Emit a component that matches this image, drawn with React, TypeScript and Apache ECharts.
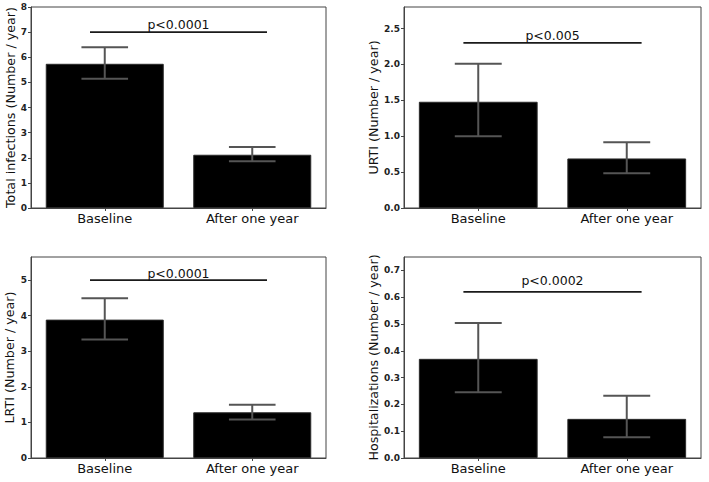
import React, { useEffect, useRef } from "react";
import * as echarts from "echarts";

const categories = ["Baseline", "After one year"];

const totalMeans = [5.74, 2.12];
const totalLow = [5.14, 1.86];
const totalHigh = [6.4, 2.43];

const urtiMeans = [1.48, 0.69];
const urtiLow = [1.0, 0.485];
const urtiHigh = [2.01, 0.915];

const lrtiMeans = [3.89, 1.285];
const lrtiLow = [3.33, 1.08];
const lrtiHigh = [4.49, 1.5];

const hospMeans = [0.37, 0.146];
const hospLow = [0.245, 0.077];
const hospHigh = [0.504, 0.232];

const axisNames = [
  "Total infections (Number / year)",
  "URTI (Number / year)",
  "LRTI (Number / year)",
  "Hospitalizations (Number / year)",
];
const yMax = [8, 2.8, 5.65, 0.75];
const yInterval = [1, 0.5, 1, 0.1];
const yDecimals = [0, 1, 0, 1];
const pLabels = ["p<0.0001", "p<0.005", "p<0.0001", "p<0.0002"];
const sigLineY = [7, 2.3, 5, 0.62];
const sigTextY = [7.32, 2.4, 5.18, 0.661];

const FONT = "DejaVu Sans";

const grids = [
  { left: 31, top: 7, width: 295, height: 201 },
  { left: 404, top: 7, width: 297, height: 201 },
  { left: 31, top: 257, width: 295, height: 201 },
  { left: 404, top: 257, width: 297, height: 201 },
];
const nameGaps = [13.5, 20, 15.5, 21];

export default function App() {
  const ref = useRef<HTMLDivElement>(null);
  useEffect(() => {
    if (!ref.current) return;
    const chart = echarts.init(ref.current, null, { renderer: "svg" });
    const means = [totalMeans, urtiMeans, lrtiMeans, hospMeans];
    const lows = [totalLow, urtiLow, lrtiLow, hospLow];
    const highs = [totalHigh, urtiHigh, lrtiHigh, hospHigh];

    const series: any[] = [];
    for (let i = 0; i < 4; i++) {
      series.push({
        type: "bar",
        xAxisIndex: i,
        yAxisIndex: i,
        data: means[i],
        barWidth: "80%",
        itemStyle: { color: "#000", borderColor: "#2a2a2a", borderWidth: 1 },
        z: 2,
      });
      series.push({
        type: "custom",
        xAxisIndex: i,
        yAxisIndex: i,
        z: 5,
        data: categories.map((_, k) => [k, lows[i][k], highs[i][k]]),
        encode: { x: 0, y: [1, 2] },
        renderItem: (params: any, api: any) => {
          const idx = api.value(0);
          const lo = api.value(1);
          const hi = api.value(2);
          const pTop = api.coord([idx, hi]);
          const pBot = api.coord([idx, lo]);
          const half = api.size([1, 0])[0] * 0.158;
          const st = { stroke: "#555", lineWidth: 2 };
          return {
            type: "group",
            children: [
              { type: "line", shape: { x1: pTop[0], y1: pTop[1], x2: pBot[0], y2: pBot[1] }, style: st },
              { type: "line", shape: { x1: pTop[0] - half, y1: pTop[1], x2: pTop[0] + half, y2: pTop[1] }, style: st },
              { type: "line", shape: { x1: pBot[0] - half, y1: pBot[1], x2: pBot[0] + half, y2: pBot[1] }, style: st },
            ],
          };
        },
      });
      series.push({
        type: "custom",
        xAxisIndex: i,
        yAxisIndex: i,
        z: 6,
        data: [[0, sigLineY[i], sigTextY[i]]],
        encode: { x: 0, y: 1 },
        renderItem: (params: any, api: any) => {
          const ly = api.value(1);
          const ty = api.value(2);
          const p0 = api.coord([0, ly]);
          const p1 = api.coord([1, ly]);
          const band = api.size([1, 0])[0];
          const x1 = p0[0] - 0.1 * band;
          const x2 = p1[0] + 0.1 * band;
          const tyPx = api.coord([0, ty])[1];
          return {
            type: "group",
            children: [
              { type: "line", shape: { x1, y1: p0[1], x2, y2: p0[1] }, style: { stroke: "#1a1a1a", lineWidth: 1.6 } },
              {
                type: "text",
                x: (x1 + x2) / 2,
                y: tyPx,
                style: {
                  text: pLabels[i],
                  fill: "#111",
                  font: `12.5px "${FONT}"`,
                  textAlign: "center",
                  textVerticalAlign: "middle",
                },
              },
            ],
          };
        },
      });
    }

    const option: any = {
      animation: false,
      backgroundColor: "#fff",
      grid: grids.map((g) => ({
        ...g,
        show: true,
        borderColor: "#444",
        borderWidth: 1,
        backgroundColor: "transparent",
        containLabel: false,
      })),
      xAxis: grids.map((_, i) => ({
        type: "category",
        gridIndex: i,
        data: categories,
        axisLine: { show: true, lineStyle: { color: "#444", width: 1 } },
        axisTick: { show: true, alignWithLabel: true, length: 3, lineStyle: { color: "#444" } },
        axisLabel: { fontSize: 13, color: "#111", margin: 4, fontFamily: FONT },
        splitLine: { show: false },
      })),
      yAxis: grids.map((_, i) => ({
        type: "value",
        gridIndex: i,
        min: 0,
        max: yMax[i],
        interval: yInterval[i],
        name: axisNames[i],
        nameLocation: "middle",
        nameRotate: 90,
        nameGap: nameGaps[i],
        nameTextStyle: { fontSize: 12.7, color: "#111", fontFamily: FONT },
        axisLine: { show: true, lineStyle: { color: "#444", width: 1 } },
        axisTick: { show: true, length: 3, lineStyle: { color: "#444" } },
        axisLabel: {
          fontSize: 9,
          fontWeight: "bold",
          color: "#222",
          margin: 4,
          fontFamily: FONT,
          showMaxLabel: yMax[i] % yInterval[i] === 0 ? true : false,
          formatter: (v: number) => v.toFixed(yDecimals[i]),
        },
        splitLine: { show: false },
      })),
      series,
    };
    chart.setOption(option);
    return () => chart.dispose();
  }, []);
  return (
    <div
      ref={ref}
      style={{ position: "absolute", left: 0, top: 0, width: 709, height: 482 }}
    />
  );
}
